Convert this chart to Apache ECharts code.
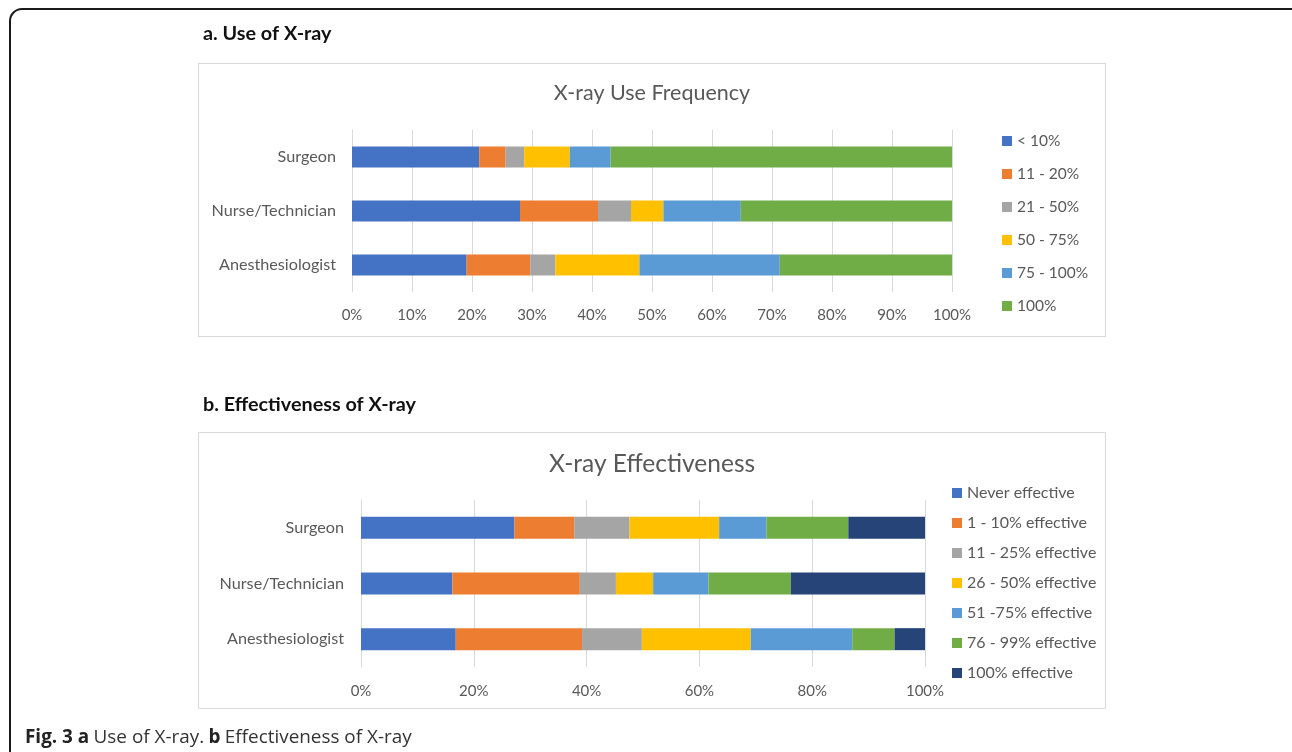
<!DOCTYPE html>
<html>
<head>
<meta charset="utf-8">
<style>
  html, body { margin: 0; padding: 0; background: #ffffff; }
  #chart { width: 1292px; height: 752px; }
</style>
<script src="https://cdn.jsdelivr.net/npm/echarts@6/dist/echarts.min.js"></script>
</head>
<body>
<div id="chart"></div>
<script>
// ---------- DATA ----------
const categories = ['Surgeon', 'Nurse/Technician', 'Anesthesiologist'];

const useNames = ['< 10%', '11 - 20%', '21 - 50%', '50 - 75%', '75 - 100%', '100%'];
// values per category (Surgeon, Nurse/Technician, Anesthesiologist)
const useLt10   = [21.2, 28.0, 19.1];
const use11to20 = [4.4, 13.0, 10.6];
const use21to50 = [3.1, 5.5, 4.2];
const use50to75 = [7.6, 5.4, 14.0];
const use75to100 = [6.8, 12.9, 23.4];
const use100    = [56.9, 35.2, 28.7];
const useValues = [useLt10, use11to20, use21to50, use50to75, use75to100, use100];

const effNames = ['Never effective', '1 - 10% effective', '11 - 25% effective', '26 - 50% effective', '51 -75% effective', '76 - 99% effective', '100% effective'];
const effNever   = [27.2, 16.2, 16.8];
const eff1to10   = [10.6, 22.6, 22.4];
const eff11to25  = [9.8, 6.4, 10.6];
const eff26to50  = [15.9, 6.6, 19.3];
const eff51to75  = [8.4, 9.8, 18.0];
const eff76to99  = [14.5, 14.6, 7.5];
const eff100     = [13.6, 23.8, 5.4];
const effValues = [effNever, eff1to10, eff11to25, eff26to50, eff51to75, eff76to99, eff100];

const palette = ['#4472C4', '#ED7D31', '#A5A5A5', '#FFC000', '#5B9BD5', '#70AD47', '#264478'];

// ---------- CHART ----------
const FONT = 'Lato, "Noto Sans", sans-serif';
const CAP_FONT = '"Open Sans", "Noto Sans", sans-serif';
const TXT = '#595959';
const chart = echarts.init(document.getElementById('chart'), null, { renderer: 'canvas' });

const series = [];
useNames.forEach((n, i) => {
  series.push({
    name: n, type: 'bar', stack: 'use', xAxisIndex: 0, yAxisIndex: 0,
    barWidth: 21, data: useValues[i], itemStyle: { color: palette[i] },
    emphasis: { disabled: true }
  });
});
effNames.forEach((n, i) => {
  series.push({
    name: n, type: 'bar', stack: 'eff', xAxisIndex: 1, yAxisIndex: 1,
    barWidth: 22, data: effValues[i], itemStyle: { color: palette[i] },
    emphasis: { disabled: true }
  });
});

const xAxisCommon = {
  type: 'value', min: 0, max: 100,
  axisLine: { show: false }, axisTick: { show: false },
  splitLine: { show: true, lineStyle: { color: '#d9d9d9', width: 1 } },
  axisLabel: { formatter: '{value}%', color: TXT, fontSize: 15, fontFamily: FONT }
};
const yAxisCommon = {
  type: 'category', data: categories, inverse: true,
  axisLine: { show: true, lineStyle: { color: '#d9d9d9' } },
  axisTick: { show: false },
  axisLabel: { color: TXT, fontSize: 16.2, fontFamily: FONT }
};

const option = {
  animation: false,
  backgroundColor: '#ffffff',
  textStyle: { fontFamily: FONT },
  graphic: [
    { type: 'rect', shape: { x: 10, y: 9, width: 1300, height: 800, r: 12 }, style: { fill: 'none', stroke: '#1a1a1a', lineWidth: 2 }, z: -10 },
    { type: 'rect', shape: { x: 198.5, y: 63.5, width: 907, height: 273 }, style: { fill: '#ffffff', stroke: '#d9d9d9', lineWidth: 1 }, z: -5 },
    { type: 'rect', shape: { x: 198.5, y: 432.5, width: 907, height: 276 }, style: { fill: '#ffffff', stroke: '#d9d9d9', lineWidth: 1 }, z: -5 }
  ],
  title: [
    { text: 'a. Use of X-ray', left: 203, top: 23.5, padding: 0, textStyle: { fontFamily: FONT, fontWeight: 'bold', fontSize: 19.8, color: '#111111' } },
    { text: 'b. Effectiveness of X-ray', left: 203, top: 394.5, padding: 0, textStyle: { fontFamily: FONT, fontWeight: 'bold', fontSize: 19.8, color: '#111111' } },
    { text: 'X-ray Use Frequency', left: 652, top: 82, padding: 0, textAlign: 'center', textStyle: { fontFamily: FONT, fontWeight: 'normal', fontSize: 21.5, color: TXT } },
    { text: 'X-ray Effectiveness', left: 652, top: 452, padding: 0, textAlign: 'center', textStyle: { fontFamily: FONT, fontWeight: 'normal', fontSize: 24.5, color: TXT } },
    { text: '{b|Fig. 3 a} {n|Use of X-ray.} {b|b} {n|Effectiveness of X-ray}', left: 25, top: 728.5, padding: 0,
      textStyle: { rich: {
        b: { fontFamily: CAP_FONT, fontWeight: 'bold', fontSize: 18.9, color: '#222222' },
        n: { fontFamily: CAP_FONT, fontWeight: 'normal', fontSize: 18.9, color: '#333333' }
      } } }
  ],
  legend: [
    { data: useNames, orient: 'vertical', left: 1002, top: 131, padding: 0, icon: 'rect', itemWidth: 10, itemHeight: 10, itemGap: 13, itemTextGap: 5,
      selectedMode: false, textStyle: { color: TXT, fontSize: 15.5, fontFamily: FONT, lineHeight: 20 } },
    { data: effNames, orient: 'vertical', left: 952, top: 483, padding: 0, icon: 'rect', itemWidth: 10, itemHeight: 10, itemGap: 10, itemTextGap: 5,
      selectedMode: false, textStyle: { color: TXT, fontSize: 16, fontFamily: FONT, lineHeight: 20 } }
  ],
  grid: [
    { left: 352, top: 130, width: 600, height: 162, containLabel: false },
    { left: 361, top: 500, width: 564, height: 167, containLabel: false }
  ],
  xAxis: [
    Object.assign({}, xAxisCommon, { gridIndex: 0, interval: 10, axisLabel: Object.assign({}, xAxisCommon.axisLabel, { margin: 16 }) }),
    Object.assign({}, xAxisCommon, { gridIndex: 1, interval: 20, axisLabel: Object.assign({}, xAxisCommon.axisLabel, { margin: 17 }) })
  ],
  yAxis: [
    Object.assign({}, yAxisCommon, { gridIndex: 0, axisLabel: Object.assign({}, yAxisCommon.axisLabel, { margin: 16 }) }),
    Object.assign({}, yAxisCommon, { gridIndex: 1, axisLabel: Object.assign({}, yAxisCommon.axisLabel, { margin: 17 }) })
  ],
  series: series
};
chart.setOption(option);
</script>
</body>
</html>
